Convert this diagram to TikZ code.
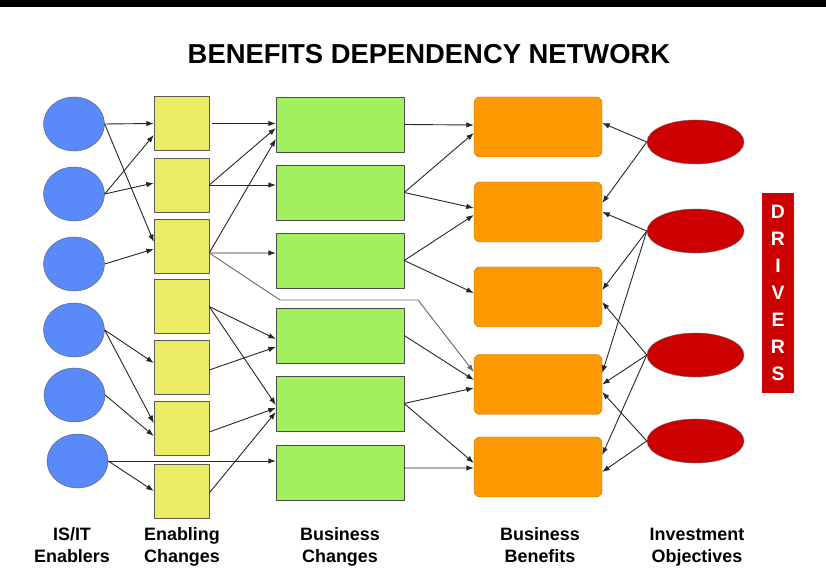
\documentclass[tikz,border=0pt]{standalone}
\usepackage{fontspec}
\setmainfont{Liberation Sans}
\usetikzlibrary{arrows.meta,shapes,calc}

\definecolor{itblue}{RGB}{90,138,250}
\definecolor{chyellow}{RGB}{236,236,100}
\definecolor{bcgreen}{RGB}{160,240,96}
\definecolor{bborange}{RGB}{255,153,0}
\definecolor{bbedge}{RGB}{185,110,20}
\definecolor{iored}{RGB}{204,0,0}

\begin{document}
\begin{tikzpicture}[>={Latex[length=7.5bp,width=5.5bp]},join=bevel]
 \tikzstyle{every node}=[inner sep=0pt]
 \tikzstyle{enabler}=[ellipse,draw=black!65,fill=itblue,minimum width=61bp,minimum height=54bp]
 \tikzstyle{change}=[rectangle,draw=black!65,fill=chyellow,minimum width=55bp,minimum height=54bp]
 \tikzstyle{business}=[rectangle,draw=black!70,fill=bcgreen,minimum width=128bp,minimum height=55bp]
 \tikzstyle{benefit}=[rectangle,rounded corners=6bp,draw=bbedge,fill=bborange,minimum width=128bp,minimum height=60bp]
 \tikzstyle{objective}=[ellipse,draw=black!60,fill=iored,minimum width=97bp,minimum height=44bp]
 \tikzstyle{link}=[->,draw=black!85,line width=0.9bp]
 \tikzstyle{caption}=[anchor=north,align=center,font=\fontsize{18}{21.5}\selectfont\bfseries]

 \useasboundingbox (0,0) rectangle (826bp,587bp);
 \fill[black] (0,580bp) rectangle (826bp,587bp);

 \node (title) at (429bp,533bp) {\fontsize{27.5}{30}\selectfont\bfseries BENEFITS DEPENDENCY NETWORK};

 % IS/IT enablers
 \node (it1) at (74bp,463bp) [enabler] {};
 \node (it2) at (74bp,393bp) [enabler] {};
 \node (it3) at (74bp,323bp) [enabler] {};
 \node (it4) at (74bp,257bp) [enabler] {};
 \node (it5) at (74.5bp,192bp) [enabler] {};
 \node (it6) at (77.5bp,126bp) [enabler] {};

 % enabling changes
 \node (ec1) at (181.5bp,463.5bp) [change] {};
 \node (ec2) at (181.5bp,402bp) [change] {};
 \node (ec3) at (181.5bp,341bp) [change] {};
 \node (ec4) at (181.5bp,280.5bp) [change] {};
 \node (ec5) at (181.5bp,220bp) [change] {};
 \node (ec6) at (181.5bp,158.5bp) [change] {};
 \node (ec7) at (181.5bp,96bp) [change] {};

 % business changes
 \node (bc1) at (340bp,462.5bp) [business] {};
 \node (bc2) at (340bp,394.5bp) [business] {};
 \node (bc3) at (340bp,326.5bp) [business] {};
 \node (bc4) at (340bp,251.5bp) [business] {};
 \node (bc5) at (340bp,183.5bp) [business] {};
 \node (bc6) at (340bp,114.5bp) [business] {};

 % business benefits
 \node (bb1) at (538bp,460bp) [benefit] {};
 \node (bb2) at (538bp,375bp) [benefit] {};
 \node (bb3) at (538bp,290bp) [benefit] {};
 \node (bb4) at (538bp,202.5bp) [benefit] {};
 \node (bb5) at (538bp,120bp) [benefit] {};

 % investment objectives
 \node (io1) at (695.5bp,445bp) [objective] {};
 \node (io2) at (695.5bp,356bp) [objective] {};
 \node (io3) at (695.5bp,232bp) [objective] {};
 \node (io4) at (695.5bp,146bp) [objective] {};

 \node (drivers) at (778bp,294bp) [rectangle,fill=iored,minimum width=32bp,minimum height=200bp,
        text=white,align=center,font=\fontsize{19.5}{27.2}\selectfont\bfseries] {D\\R\\I\\V\\E\\R\\S};

 \node (itname) at (72bp,61.2bp) [caption] {\strut IS/IT\\Enablers};
 \node (ecname) at (182bp,61.2bp) [caption] {\strut Enabling\\Changes};
 \node (bcname) at (340bp,61.2bp) [caption] {\strut Business\\Changes};
 \node (bbname) at (540bp,61.2bp) [caption] {\strut Business\\Benefits};
 \node (ioname) at (697bp,61.2bp) [caption] {\strut Investment\\Objectives};

 \coordinate (bendA) at (280bp,287bp);
 \coordinate (bendB) at (418bp,287bp);

 % enablers -> enabling changes
 \draw [link] (it1.east) to (ec1.west);
 \draw [link] (it1.east) to ([yshift=4bp]ec3.west);
 \draw [link] (it2.east) to ([yshift=-11.5bp]ec1.west);
 \draw [link] (it2.east) to ([yshift=2bp]ec2.west);
 \draw [link] (it3.east) to ([yshift=-3bp]ec3.west);
 \draw [link] (it4.east) to ([yshift=4bp]ec5.west);
 \draw [link] (it4.east) to ([yshift=5.5bp]ec6.west);
 \draw [link] (it5.east) to ([yshift=-7.5bp]ec6.west);
 \draw [link] (it6.east) to ([yshift=11.5bp]bc6.west);
 \draw [link] (it6.east) to (ec7.west);

 % enabling changes -> business changes
 \draw [link,shorten <=3bp] (ec1.east) to ([yshift=1bp]bc1.west);
 \draw [link] (ec2.east) to ([yshift=-3.5bp]bc1.west);
 \draw [link] (ec2.east) to ([yshift=7.5bp]bc2.west);
 \draw [link] ([yshift=-7bp]ec3.east) to ([yshift=-14.5bp]bc1.west);
 \draw [link] ([yshift=-7bp]ec3.east) to ([yshift=7.5bp]bc3.west);
 \draw [link,draw=black!60] ([yshift=-7bp]ec3.east) -- (bendA) -- (bendB) -- ([yshift=12.5bp]bb4.west);
 \draw [link] (ec4.east) to ([yshift=-3.5bp]bc4.west);
 \draw [link] (ec4.east) to ([yshift=-1.5bp]bc5.west);
 \draw [link] ([yshift=-3bp]ec5.east) to ([yshift=-11.5bp]bc4.west);
 \draw [link] ([yshift=-3.5bp]ec6.east) to ([yshift=-4.5bp]bc5.west);
 \draw [link] ([yshift=-2bp]ec7.east) to ([yshift=-8.5bp]bc5.west);

 % business changes -> benefits
 \draw [link] (bc1.east) to ([yshift=2bp]bb1.west);
 \draw [link] (bc2.east) to ([yshift=-6bp]bb1.west);
 \draw [link] (bc2.east) to ([yshift=4bp]bb2.west);
 \draw [link] (bc3.east) to ([yshift=-3bp]bb2.west);
 \draw [link] (bc3.east) to ([yshift=4bp]bb3.west);
 \draw [link] (bc4.east) to ([yshift=4.5bp]bb4.west);
 \draw [link] (bc5.east) to ([yshift=-3.5bp]bb4.west);
 \draw [link] (bc5.east) to ([yshift=4bp]bb5.west);
 \draw [link] ([yshift=4.5bp]bc6.east) to ([yshift=-1bp]bb5.west);

 % objectives -> benefits
 \draw [link] (io1.west) to ([yshift=4bp]bb1.east);
 \draw [link] (io1.west) to ([yshift=9bp]bb2.east);
 \draw [link] (io2.west) to (bb2.east);
 \draw [link] (io2.west) to ([yshift=7bp]bb3.east);
 \draw [link] (io2.west) to ([yshift=11.5bp]bb4.east);
 \draw [link] (io3.west) to ([yshift=-5bp]bb3.east);
 \draw [link] (io3.west) to (bb4.east);
 \draw [link] (io3.west) to ([yshift=12bp]bb5.east);
 \draw [link] (io4.west) to ([yshift=-7.5bp]bb4.east);
 \draw [link] (io4.west) to ([yshift=-5bp]bb5.east);
\end{tikzpicture}
\end{document}
